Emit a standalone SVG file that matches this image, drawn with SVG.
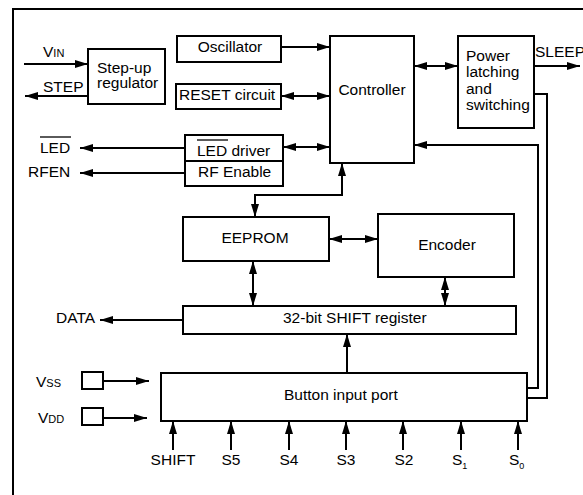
<svg xmlns="http://www.w3.org/2000/svg" width="583" height="495" viewBox="0 0 583 495">
<style>
text{font-family:"Liberation Sans",Arial,sans-serif;font-size:15.5px;fill:#000}
.b{fill:#fff;stroke:#000;stroke-width:2}
.c{fill:none;stroke:#000;stroke-width:2}
.s{font-size:11px}
.m{text-anchor:middle}
</style>
<defs>
<marker id="ah" viewBox="0 0 13 8" refX="13" refY="4" markerWidth="13" markerHeight="8" markerUnits="userSpaceOnUse" orient="auto-start-reverse">
<path d="M0,0 L13,4 L0,8 z" fill="#000"/>
</marker>
</defs>
<rect width="583" height="495" fill="#fff"/>
<path class="c" d="M13,495 V9 H583"/>

<g id="connectors">
<path class="c" d="M24,64 H88" marker-end="url(#ah)"/>
<path class="c" d="M88,96 H25" marker-end="url(#ah)"/>
<path class="c" d="M281,47 H330" marker-end="url(#ah)"/>
<path class="c" d="M281,96 H330" marker-start="url(#ah)" marker-end="url(#ah)"/>
<path class="c" d="M283,147 H330" marker-start="url(#ah)" marker-end="url(#ah)"/>
<path class="c" d="M185,148 H80" marker-end="url(#ah)"/>
<path class="c" d="M185,173 H80" marker-end="url(#ah)"/>
<path class="c" d="M414,66 H458" marker-start="url(#ah)" marker-end="url(#ah)"/>
<path class="c" d="M534,66 H580" marker-end="url(#ah)"/>
<path class="c" d="M534,94 H547 V398 H527"/>
<path class="c" d="M527,388 H538 V145 H414" marker-end="url(#ah)"/>
<path class="c" d="M255,217 V195 H342 V163" marker-start="url(#ah)" marker-end="url(#ah)"/>
<path class="c" d="M329,239 H378" marker-start="url(#ah)" marker-end="url(#ah)"/>
<path class="c" d="M253,261 V306" marker-start="url(#ah)" marker-end="url(#ah)"/>
<path class="c" d="M445,277 V306" marker-start="url(#ah)" marker-end="url(#ah)"/>
<path class="c" d="M183,320 H100" marker-end="url(#ah)"/>
<path class="c" d="M347,373 V334" marker-end="url(#ah)"/>
<path class="c" d="M103,381 H149" marker-end="url(#ah)"/>
<path class="c" d="M103,418 H147" marker-end="url(#ah)"/>
<path class="c" d="M173,450 V421" marker-end="url(#ah)"/>
<path class="c" d="M231,450 V421" marker-end="url(#ah)"/>
<path class="c" d="M289,450 V421" marker-end="url(#ah)"/>
<path class="c" d="M346,450 V421" marker-end="url(#ah)"/>
<path class="c" d="M403,450 V421" marker-end="url(#ah)"/>
<path class="c" d="M461,450 V421" marker-end="url(#ah)"/>
<path class="c" d="M518,450 V421" marker-end="url(#ah)"/>
</g>

<g id="stepup">
<rect class="b" x="88" y="49" width="77" height="55"/>
<text x="97" y="73">Step-up</text>
<text x="97" y="88">regulator</text>
</g>
<g id="oscillator">
<rect class="b" x="177" y="36" width="104" height="26"/>
<text class="m" x="230" y="52">Oscillator</text>
</g>
<g id="reset">
<rect class="b" x="176" y="84" width="105" height="25"/>
<text x="179" y="100">RESET circuit</text>
</g>
<g id="leddriver">
<rect class="b" x="185" y="135" width="98" height="51"/>
<line class="c" x1="185" y1="161" x2="283" y2="161"/>
<text x="197" y="156">LED driver</text>
<line x1="197" y1="140" x2="228" y2="140" stroke="#000" stroke-width="1.3"/>
<text x="198" y="177">RF Enable</text>
</g>
<g id="controller">
<rect class="b" x="330" y="36" width="84" height="127"/>
<text class="m" x="372" y="95">Controller</text>
</g>
<g id="power">
<rect class="b" x="458" y="36" width="76" height="92"/>
<text x="466" y="61">Power</text>
<text x="466" y="77">latching</text>
<text x="466" y="94">and</text>
<text x="466" y="110">switching</text>
</g>
<g id="eeprom">
<rect class="b" x="183" y="217" width="146" height="44"/>
<text class="m" x="255" y="243">EEPROM</text>
</g>
<g id="encoder">
<rect class="b" x="378" y="214" width="136" height="63"/>
<text class="m" x="447" y="250">Encoder</text>
</g>
<g id="shiftreg">
<rect class="b" x="183" y="306" width="333" height="28"/>
<text x="283" y="323">32-bit SHIFT register</text>
</g>
<g id="buttonport">
<rect class="b" x="161" y="373" width="366" height="48"/>
<text x="284" y="400">Button input port</text>
</g>
<g id="vss">
<rect class="b" x="82" y="372" width="21" height="17"/>
<text x="36" y="387">V<tspan class="s">SS</tspan></text>
</g>
<g id="vdd">
<rect class="b" x="82" y="408" width="21" height="17"/>
<text x="38" y="423">V<tspan class="s">DD</tspan></text>
</g>

<g id="labels">
<text x="43" y="57">V<tspan class="s">IN</tspan></text>
<text x="43" y="92">STEP</text>
<text x="40" y="153">LED</text>
<line x1="40" y1="137" x2="71" y2="137" stroke="#000" stroke-width="1.3"/>
<text x="28" y="177">RFEN</text>
<text x="535" y="57">SLEEP</text>
<text x="56" y="323">DATA</text>
<text class="m" x="173" y="465">SHIFT</text>
<text class="m" x="231" y="465">S5</text>
<text class="m" x="289" y="465">S4</text>
<text class="m" x="346" y="465">S3</text>
<text class="m" x="404" y="465">S2</text>
<text x="452" y="465">S<tspan font-size="9" dy="4">1</tspan></text>
<text x="509" y="465">S<tspan font-size="9" dy="4">0</tspan></text>
</g>
</svg>
